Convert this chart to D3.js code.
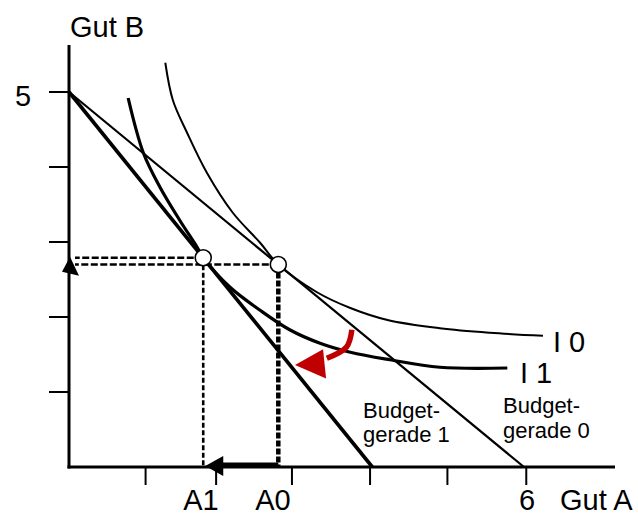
<!DOCTYPE html>
<html>
<head>
<meta charset="utf-8">
<script src="https://cdn.jsdelivr.net/npm/d3@7"></script>
<style>
  html, body { margin: 0; padding: 0; background: #fff; }
  svg { display: block; font-family: "Liberation Sans", Arial, sans-serif; }
</style>
</head>
<body>
<div id="chart"></div>
<script>
// budget lines: from the B intercept to the A intercept
const budget0 = [[0, 5], [6, 0]];
const budget1 = [[0, 5], [4, 0]];

// indifference curves (data units)
const curveI0 = [
  [1.27, 5.39], [1.37, 4.89], [1.56, 4.45], [1.82, 3.92], [2.16, 3.39],
  [2.52, 2.99], [2.76, 2.70], [3.27, 2.33], [3.71, 2.12], [4.20, 1.96],
  [4.89, 1.85], [5.55, 1.79], [6.25, 1.75]
];
const curveI1 = [
  [0.78, 4.92], [0.98, 4.19], [1.20, 3.73], [1.46, 3.29], [1.69, 2.93],
  [1.77, 2.79], [2.12, 2.40], [2.52, 2.09], [2.91, 1.83], [3.31, 1.65],
  [3.71, 1.53], [4.23, 1.43], [4.89, 1.33], [5.78, 1.32]
];

// optimum points
const optimum0 = [2.76, 2.70];
const optimum1 = [1.77, 2.79];

// ticks
const yTickVals = [1, 2, 3, 4, 5];
const xTickVals = [1.01, 1.94, 2.94, 3.97, 4.99, 6.03];
const xLabels = [["A1", 1.74], ["A0", 2.69], ["6", 6.04]];

// red arrow (substitution hint)
const redArc = [[3.73, 1.83], [3.66, 1.60], [3.40, 1.45]];
const redHead = [[2.98, 1.36], [3.35, 1.57], [3.39, 1.18]];

const W = 638, H = 516;
const svg = d3.select("#chart").append("svg")
  .attr("width", W).attr("height", H);

const x = d3.scaleLinear().domain([0, 7.2]).range([69, 615]);
const y = d3.scaleLinear().domain([0, 5.6]).range([467, 47]);

const line = d3.line().x(d => x(d[0])).y(d => y(d[1]));
const smooth = d3.line().x(d => x(d[0])).y(d => y(d[1])).curve(d3.curveCatmullRom.alpha(0.5));

// axes
svg.append("line")
  .attr("x1", x(0)).attr("x2", x(0)).attr("y1", 45).attr("y2", y(0) + 1.5)
  .attr("stroke", "#000").attr("stroke-width", 3);
svg.append("line")
  .attr("x1", x(0) - 1.5).attr("x2", 615).attr("y1", y(0)).attr("y2", y(0))
  .attr("stroke", "#000").attr("stroke-width", 3);

// y ticks (to the left)
svg.selectAll(".ytick").data(yTickVals).enter().append("line")
  .attr("x1", 49).attr("x2", x(0))
  .attr("y1", d => y(d)).attr("y2", d => y(d))
  .attr("stroke", "#000").attr("stroke-width", 2);

// x ticks (below)
svg.selectAll(".xtick").data(xTickVals).enter().append("line")
  .attr("x1", d => x(d)).attr("x2", d => x(d))
  .attr("y1", y(0)).attr("y2", y(0) + 18)
  .attr("stroke", "#000").attr("stroke-width", 2);

// budget lines
svg.append("path").attr("d", line(budget0))
  .attr("fill", "none").attr("stroke", "#000").attr("stroke-width", 2.2);
svg.append("path").attr("d", line(budget1))
  .attr("fill", "none").attr("stroke", "#000").attr("stroke-width", 3.6);

// indifference curves
svg.append("path").attr("d", smooth(curveI0))
  .attr("fill", "none").attr("stroke", "#000").attr("stroke-width", 2);
svg.append("path").attr("d", smooth(curveI1))
  .attr("fill", "none").attr("stroke", "#000").attr("stroke-width", 3.2);

// dashed guides
svg.append("line")
  .attr("x1", x(optimum1[0])).attr("x2", x(0) + 6)
  .attr("y1", y(optimum1[1])).attr("y2", y(optimum1[1]))
  .attr("stroke", "#000").attr("stroke-width", 2.4).attr("stroke-dasharray", "7,2.5");
svg.append("line")
  .attr("x1", x(optimum0[0])).attr("x2", x(0) + 6)
  .attr("y1", y(optimum0[1])).attr("y2", y(optimum0[1]))
  .attr("stroke", "#000").attr("stroke-width", 2.4).attr("stroke-dasharray", "7,2.5");
svg.append("line")
  .attr("x1", x(optimum1[0])).attr("x2", x(optimum1[0]))
  .attr("y1", y(optimum1[1])).attr("y2", y(0))
  .attr("stroke", "#000").attr("stroke-width", 2.6).attr("stroke-dasharray", "5,2.5");
svg.append("line")
  .attr("x1", x(optimum0[0])).attr("x2", x(optimum0[0]))
  .attr("y1", y(optimum0[1])).attr("y2", y(0))
  .attr("stroke", "#000").attr("stroke-width", 4.5).attr("stroke-dasharray", "6,2");

// arrow on the A axis (A0 -> A1)
svg.append("line")
  .attr("x1", x(optimum0[0])).attr("x2", x(optimum1[0]) + 16)
  .attr("y1", y(0) - 2).attr("y2", y(0) - 2)
  .attr("stroke", "#000").attr("stroke-width", 5);
const ax = x(optimum1[0]) + 2, ay = y(0) - 1;
svg.append("path")
  .attr("d", `M${ax},${ay} L${ax + 18},${ay - 10} L${ax + 18},${ay + 10} Z`)
  .attr("fill", "#000");

// small arrowhead on the B axis
const bx = x(0), by = y(optimum1[1]) - 1;
svg.append("path")
  .attr("d", `M${bx + 1},${by} L${bx - 7},${by + 15} L${bx + 10},${by + 19} Z`)
  .attr("fill", "#000");

// optimum circles
svg.selectAll(".opt").data([optimum0, optimum1]).enter().append("circle")
  .attr("cx", d => x(d[0])).attr("cy", d => y(d[1])).attr("r", 8)
  .attr("fill", "#fff").attr("stroke", "#000").attr("stroke-width", 1.6);

// red arrow
svg.append("path").attr("d", smooth(redArc))
  .attr("fill", "none").attr("stroke", "#c00000").attr("stroke-width", 5.5);
svg.append("path").attr("d", line(redHead) + "Z").attr("fill", "#c00000");

// texts
const big = 29;
svg.append("text").attr("x", 70).attr("y", 37).attr("font-size", big).text("Gut B");
svg.append("text").attr("x", 15).attr("y", 106).attr("font-size", big).text("5");
svg.append("text").attr("x", 560).attr("y", 510).attr("font-size", big).text("Gut A");
svg.selectAll(".xl").data(xLabels).enter().append("text")
  .attr("x", d => x(d[1])).attr("y", 510)
  .attr("text-anchor", "middle").attr("font-size", big)
  .text(d => d[0]);

svg.append("text").attr("x", 553).attr("y", 352).attr("font-size", big).text("I 0");
svg.append("text").attr("x", 520).attr("y", 383).attr("font-size", big).text("I 1");

const small = 22;
svg.append("text").attr("x", 363).attr("y", 418).attr("font-size", small).text("Budget-");
svg.append("text").attr("x", 363).attr("y", 442).attr("font-size", small).text("gerade 1");
svg.append("text").attr("x", 503).attr("y", 413).attr("font-size", small).text("Budget-");
svg.append("text").attr("x", 503).attr("y", 438).attr("font-size", small).text("gerade 0");
</script>
</body>
</html>
